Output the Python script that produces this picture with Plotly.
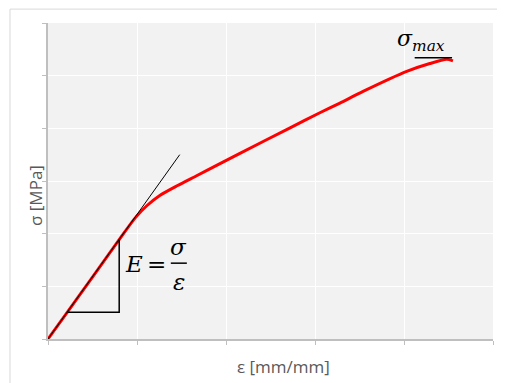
import plotly.graph_objects as go

# Stress-strain curve (axis units, ticks unlabeled)
strain = [0.0, 0.23, 0.51, 0.81, 0.98, 1.11, 1.26, 1.45, 1.67, 1.90, 2.14, 2.72, 3.06, 3.28, 3.54, 4.03, 4.29, 4.48, 4.55]
stress = [0.0, 0.54, 1.20, 1.91, 2.30, 2.53, 2.73, 2.91, 3.10, 3.30, 3.51, 4.01, 4.30, 4.48, 4.70, 5.08, 5.23, 5.31, 5.28]

# Tangent (elastic modulus) line
tangent_x = [0.0, 1.48]
tangent_y = [0.0, 3.50]

# Slope triangle
triangle_x = [0.22, 0.80, 0.80]
triangle_y = [0.51, 0.51, 1.89]

# sigma_max marker line
smax_x = [4.12, 4.54]
smax_y = [5.34, 5.34]

x_ticks = [0, 1, 2, 3, 4, 5]
y_ticks = [0, 1, 2, 3, 4, 5, 6]

axis_gray = "#bfbfbf"
text_gray = "#595959"

fig = go.Figure()
fig.add_trace(go.Scatter(x=strain, y=stress, mode="lines",
                         line=dict(color="#ff0000", width=3, shape="spline", smoothing=0.7),
                         hoverinfo="skip"))
fig.add_trace(go.Scatter(x=tangent_x, y=tangent_y, mode="lines",
                         line=dict(color="black", width=1), hoverinfo="skip"))
fig.add_trace(go.Scatter(x=triangle_x, y=triangle_y, mode="lines",
                         line=dict(color="black", width=1.5), hoverinfo="skip"))
fig.add_trace(go.Scatter(x=smax_x, y=smax_y, mode="lines",
                         line=dict(color="black", width=1.5), hoverinfo="skip"))

serif = "DejaVu Serif"
fig.add_annotation(x=4.48, y=5.36, xref="x", yref="y", xanchor="right", yanchor="bottom",
                   text="<i>σ<sub>max</sub></i>", showarrow=False,
                   font=dict(family=serif, size=22, color="black"))
fig.add_annotation(x=0.84, y=1.42, xref="x", yref="y", xanchor="left", yanchor="middle",
                   text="<i>E</i>", showarrow=False,
                   font=dict(family=serif, size=23, color="black"))
fig.add_annotation(x=1.22, y=1.42, xref="x", yref="y", xanchor="center", yanchor="middle",
                   text="=", showarrow=False,
                   font=dict(family=serif, size=23, color="black"))
fig.add_annotation(x=1.47, y=1.74, xref="x", yref="y", xanchor="center", yanchor="middle",
                   text="<i>σ</i>", showarrow=False,
                   font=dict(family=serif, size=23, color="black"))
fig.add_annotation(x=1.47, y=1.08, xref="x", yref="y", xanchor="center", yanchor="middle",
                   text="<i>ε</i>", showarrow=False,
                   font=dict(family=serif, size=23, color="black"))
fig.add_shape(type="line", xref="x", yref="y", x0=1.38, x1=1.56, y0=1.44, y1=1.44,
              line=dict(color="black", width=1.5))

# axis titles
fig.add_annotation(x=0.530, y=-0.0886, xref="paper", yref="paper", xanchor="center", yanchor="middle",
                   text="ε [mm/mm]", showarrow=False,
                   font=dict(family="Open Sans", size=17, color=text_gray))
fig.add_annotation(x=-0.0292, y=0.4525, xref="paper", yref="paper", xanchor="center", yanchor="middle",
                   text="σ [MPa]", showarrow=False, textangle=-90,
                   font=dict(family="Open Sans", size=17, color=text_gray))

# outer frame lines (top and left)
fig.add_shape(type="line", xref="paper", yref="paper", x0=-0.0854, x1=1.03, y0=1.044, y1=1.044,
              line=dict(color="#d9d9d9", width=1))
fig.add_shape(type="line", xref="paper", yref="paper", x0=-0.0854, x1=-0.0854, y0=-0.15, y1=1.044,
              line=dict(color="#d9d9d9", width=1))

fig.update_layout(
    width=497, height=375,
    margin=dict(l=40, r=12, t=15, b=44),
    paper_bgcolor="white", plot_bgcolor="#f2f2f2",
    showlegend=False,
    font=dict(family="Open Sans", color=text_gray),
)
fig.update_xaxes(range=[0, 5], tickvals=x_ticks, showticklabels=False, automargin=False,
                 ticks="outside", ticklen=4, tickcolor=axis_gray, tickwidth=1,
                 showgrid=True, gridcolor="white", gridwidth=1,
                 showline=True, linecolor=axis_gray, linewidth=2, zeroline=False)
fig.update_yaxes(range=[0, 6], tickvals=y_ticks, showticklabels=False, automargin=False,
                 ticks="outside", ticklen=4, tickcolor=axis_gray, tickwidth=1,
                 showgrid=True, gridcolor="white", gridwidth=1,
                 showline=True, linecolor=axis_gray, linewidth=2, zeroline=False)

fig.write_html("out.html")
